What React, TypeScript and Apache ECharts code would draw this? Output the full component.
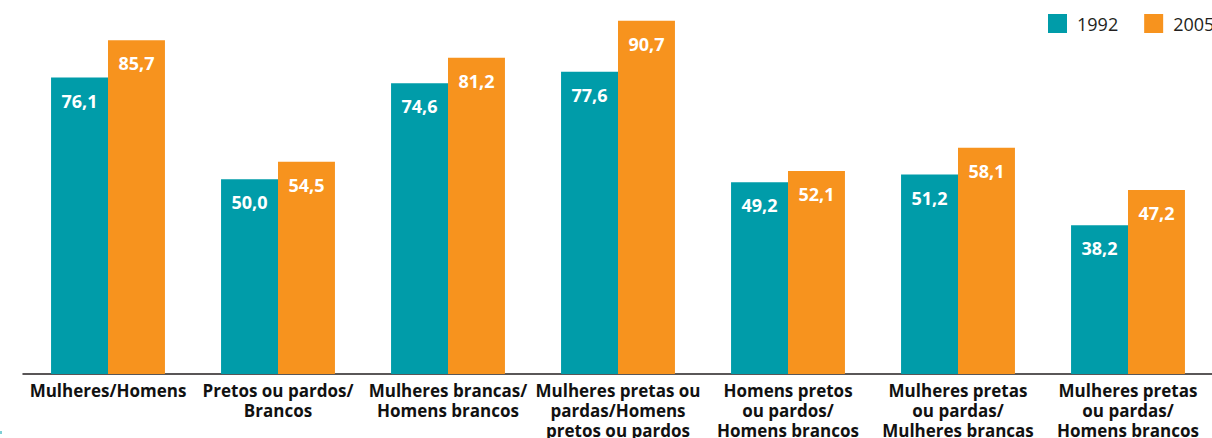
import React, { useEffect, useRef } from "react";
import * as echarts from "echarts";

const categories = [
  "Mulheres/Homens",
  "Pretos ou pardos/\nBrancos",
  "Mulheres brancas/\nHomens brancos",
  "Mulheres pretas ou\npardas/Homens\npretos ou pardos",
  "Homens pretos\nou pardos/\nHomens brancos",
  "Mulheres pretas\nou pardas/\nMulheres brancas",
  "Mulheres pretas\nou pardas/\nHomens brancos",
];
const values1992 = [76.1, 50.0, 74.6, 77.6, 49.2, 51.2, 38.2];
const values2005 = [85.7, 54.5, 81.2, 90.7, 52.1, 58.1, 47.2];
const seriesNames = ["1992", "2005"];
const colors = ["#009ca9", "#f7931e"];

const fmt = (v: number) => v.toFixed(1).replace(".", ",");

export default function App() {
  const ref = useRef<HTMLDivElement>(null);
  useEffect(() => {
    if (!ref.current) return;
    const chart = echarts.init(ref.current, undefined, { renderer: "svg" });
    const label = {
      show: true,
      position: "insideTop" as const,
      distance: 14,
      color: "#ffffff",
      fontWeight: "bold" as const,
      fontSize: 18,
      fontFamily: "Open Sans",
      formatter: (p: any) => fmt(p.value),
    };
    chart.setOption({
      animation: false,
      backgroundColor: "#ffffff",
      color: colors,
      legend: {
        orient: "horizontal",
        left: 1048,
        top: 14,
        width: 400,
        padding: 0,
        itemWidth: 19,
        itemHeight: 19,
        itemGap: 26,
        icon: "rect",
        textStyle: {
          fontSize: 18,
          color: "#231f20",
          fontFamily: "Open Sans",
          padding: [0, 0, 0, 5],
        },
        data: seriesNames,
      },
      grid: {
        left: 23,
        right: -1,
        top: 0,
        bottom: 64,
        containLabel: false,
        outerBoundsMode: "none",
      },
      xAxis: {
        type: "category",
        data: categories,
        axisTick: { show: false },
        axisLine: { lineStyle: { color: "#231f20", width: 1.5 } },
        axisLabel: {
          interval: 0,
          margin: 6,
          color: "#111111",
          fontWeight: "bold",
          fontSize: 17,
          lineHeight: 20,
          fontFamily: "Open Sans",
          align: "center",
        },
      },
      yAxis: { type: "value", min: 0, max: 96, show: false, splitLine: { show: false } },
      series: [
        {
          name: seriesNames[0],
          type: "bar",
          data: values1992,
          barGap: "0%",
          barCategoryGap: "33%",
          label,
        },
        {
          name: seriesNames[1],
          type: "bar",
          data: values2005,
          barGap: "0%",
          barCategoryGap: "33%",
          label,
        },
      ],
      graphic: [
        { type: "rect", left: 0, top: 431, shape: { width: 2, height: 3 }, style: { fill: "#7fcfd6" } },
      ],
    });
    return () => chart.dispose();
  }, []);
  return (
    <div
      ref={ref}
      style={{ position: "fixed", left: 0, top: 0, width: 1212, height: 438 }}
    />
  );
}
